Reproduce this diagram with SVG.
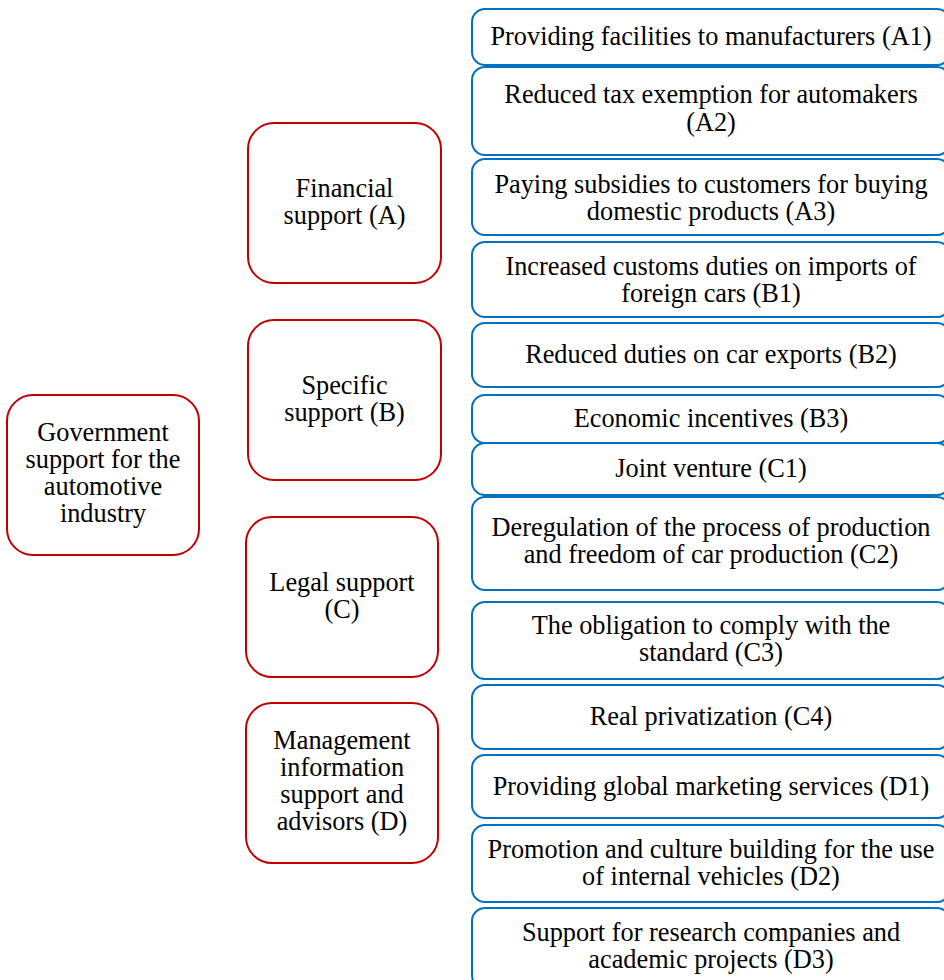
<svg xmlns="http://www.w3.org/2000/svg" width="944" height="980" viewBox="0 0 944 980">
<style>
  text { font-family: "Liberation Serif", "Times New Roman", serif; font-size: 26.3px; fill: #000; text-anchor: middle; }
  .red { fill: #fff; stroke: #C00000; stroke-width: 2; }
  .blue { fill: #fff; stroke: #0070C0; stroke-width: 2; }
</style>
<rect width="944" height="980" fill="#fff"/>
<g id="connectors"></g>

<g id="root">
  <rect class="red" x="7" y="395" width="192" height="160" rx="26"/>
  <text x="103" y="441">Government</text>
  <text x="103" y="468">support for the</text>
  <text x="103" y="495">automotive</text>
  <text x="103" y="522">industry</text>
</g>

<g id="A">
  <rect class="red" x="248" y="123" width="193" height="160" rx="26"/>
  <text x="344.5" y="197">Financial</text>
  <text x="344.5" y="224">support (A)</text>
</g>
<g id="B">
  <rect class="red" x="248" y="320" width="193" height="160" rx="26"/>
  <text x="344.5" y="394">Specific</text>
  <text x="344.5" y="421">support (B)</text>
</g>
<g id="C">
  <rect class="red" x="246" y="517" width="192" height="160" rx="26"/>
  <text x="342" y="591">Legal support</text>
  <text x="342" y="618">(C)</text>
</g>
<g id="D">
  <rect class="red" x="246" y="703" width="192" height="160" rx="26"/>
  <text x="342" y="749">Management</text>
  <text x="342" y="776">information</text>
  <text x="342" y="803">support and</text>
  <text x="342" y="830">advisors (D)</text>
</g>

<g id="A1">
  <rect class="blue" x="472" y="9" width="478" height="56" rx="13"/>
  <text x="711" y="45">Providing facilities to manufacturers (A1)</text>
</g>
<g id="A2">
  <rect class="blue" x="472" y="67" width="478" height="88" rx="13"/>
  <text x="711" y="103">Reduced tax exemption for automakers</text>
  <text x="711" y="131">(A2)</text>
</g>
<g id="A3">
  <rect class="blue" x="472" y="159" width="478" height="76" rx="13"/>
  <text x="711" y="193">Paying subsidies to customers for buying</text>
  <text x="711" y="220">domestic products (A3)</text>
</g>
<g id="B1">
  <rect class="blue" x="472" y="242" width="478" height="75" rx="13"/>
  <text x="711" y="275">Increased customs duties on imports of</text>
  <text x="711" y="302">foreign cars (B1)</text>
</g>
<g id="B2">
  <rect class="blue" x="472" y="323" width="478" height="64" rx="13"/>
  <text x="711" y="363">Reduced duties on car exports (B2)</text>
</g>
<g id="B3">
  <rect class="blue" x="472" y="395" width="478" height="48" rx="13"/>
  <text x="711" y="427">Economic incentives (B3)</text>
</g>
<g id="C1">
  <rect class="blue" x="472" y="443" width="478" height="52" rx="13"/>
  <text x="711" y="477">Joint venture (C1)</text>
</g>
<g id="C2">
  <rect class="blue" x="472" y="497" width="478" height="93" rx="13"/>
  <text x="711" y="536">Deregulation of the process of production</text>
  <text x="711" y="563">and freedom of car production (C2)</text>
</g>
<g id="C3">
  <rect class="blue" x="472" y="602" width="478" height="77" rx="13"/>
  <text x="711" y="634">The obligation to comply with the</text>
  <text x="711" y="661">standard (C3)</text>
</g>
<g id="C4">
  <rect class="blue" x="472" y="685" width="478" height="64" rx="13"/>
  <text x="711" y="725">Real privatization (C4)</text>
</g>
<g id="D1">
  <rect class="blue" x="472" y="755" width="478" height="63" rx="13"/>
  <text x="711" y="795">Providing global marketing services (D1)</text>
</g>
<g id="D2">
  <rect class="blue" x="472" y="825" width="478" height="77" rx="13"/>
  <text x="711" y="858">Promotion and culture building for the use</text>
  <text x="711" y="885">of internal vehicles (D2)</text>
</g>
<g id="D3">
  <rect class="blue" x="472" y="908" width="478" height="80" rx="13"/>
  <text x="711" y="941">Support for research companies and</text>
  <text x="711" y="968">academic projects (D3)</text>
</g>
</svg>
